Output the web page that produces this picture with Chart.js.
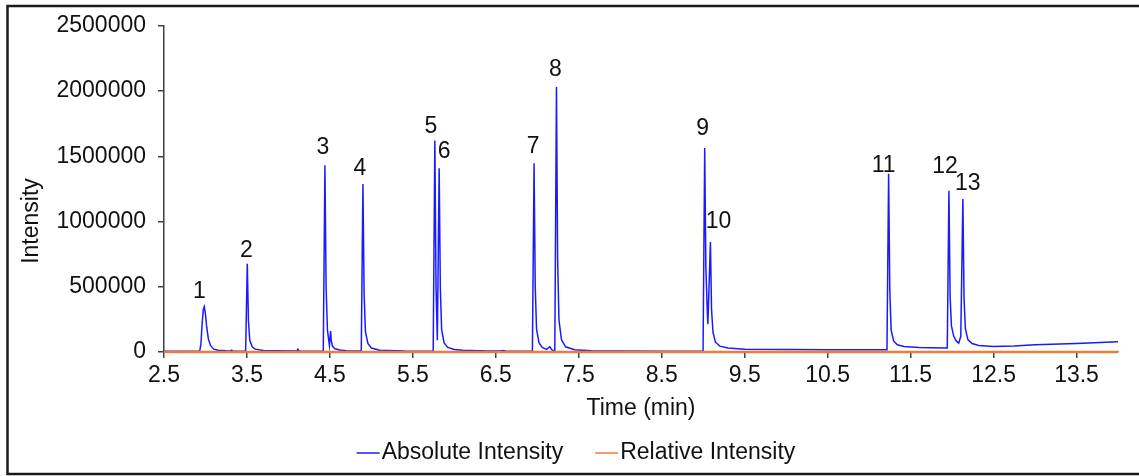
<!DOCTYPE html>
<html lang="en">
<head>
    <meta charset="UTF-8">
    <title>Chromatogram</title>
    <script src="https://cdn.jsdelivr.net/npm/chart.js"></script>
    <style>
        body { margin: 0; background: #fff; }
        #wrap { width: 1139px; height: 476px; position: relative; }
    </style>
</head>
<body>
    <div id="wrap"><canvas id="chrom"></canvas></div>

    <script>
        // retention time (min) and absolute intensity, grouped by peak
        const times = [
            2.5, 2.93, 2.945, 2.96, 2.975, 2.986, 2.998, 3.015, 3.035, 3.06, 3.1, 3.15, 3.25, 3.3, 3.316, 3.33, 3.46,
            3.484, 3.504, 3.518, 3.534, 3.564, 3.6, 3.7, 3.85, 4.1, 4.114, 4.128,
            4.42, 4.44, 4.454, 4.47, 4.494, 4.508, 4.516, 4.53, 4.56, 4.62, 4.7, 4.85,
            4.878, 4.898, 4.912, 4.928, 4.958, 5.0, 5.1, 5.4,
            5.745, 5.765, 5.779, 5.795, 5.817, 5.831, 5.847, 5.877, 5.92, 6.0, 6.1, 6.4, 6.55, 6.584, 6.62,
            6.941, 6.961, 6.975, 6.991, 7.021, 7.06, 7.11, 7.15, 7.18, 7.2,
            7.211, 7.231, 7.245, 7.261, 7.291, 7.34, 7.45, 7.65, 8.0, 8.5,
            8.998, 9.018, 9.032, 9.05, 9.056, 9.087, 9.1, 9.118, 9.147, 9.2, 9.3, 9.5, 10.0, 10.5, 11.2,
            11.215, 11.235, 11.249, 11.265, 11.295, 11.34, 11.42, 11.6, 11.92,
            11.942, 11.962, 11.976, 11.992, 12.02, 12.05, 12.08, 12.105, 12.13, 12.144, 12.16, 12.19, 12.24, 12.32, 12.5, 12.75, 13.0, 13.5, 14.0
        ];
        const absolute = [
            5000, 5000, 60000, 220000, 330000, 348000, 300000, 190000, 100000, 50000, 22000, 13000, 9000, 8000, 14000, 7000, 6000,
            6000, 677000, 240000, 90000, 40000, 22000, 12000, 9000, 7000, 22000, 7000,
            6000, 1432000, 500000, 170000, 50000, 160000, 90000, 45000, 25000, 15000, 10000, 7000,
            7000, 1288000, 450000, 155000, 65000, 30000, 13000, 7000,
            6000, 1621000, 500000, 91000, 1409000, 490000, 170000, 70000, 35000, 20000, 13000, 8000, 7000, 11000, 7000,
            6000, 1447000, 500000, 175000, 70000, 35000, 20000, 40000, 14000, 11000,
            10000, 2030000, 710000, 245000, 95000, 40000, 18000, 10000, 8000, 6000,
            5000, 1563000, 650000, 300000, 212000, 843000, 330000, 150000, 75000, 45000, 30000, 22000, 19000, 18000, 17000,
            17000, 1366000, 480000, 170000, 85000, 55000, 42000, 35000, 30000,
            30000, 1235000, 430000, 200000, 120000, 85000, 68000, 120000, 1172000, 410000, 180000, 95000, 65000, 50000, 42000, 46000, 55000, 66000, 78000
        ];

        // relative intensity (%), sparse
        const relTimes = [2.5, 2.986, 3.504, 4.44, 4.898, 5.765, 5.817, 6.961, 7.231, 9.018, 9.087, 11.235, 11.962, 12.13, 14.0];
        const relative = [0.2, 17.1, 33.4, 70.5, 63.4, 79.9, 69.4, 71.3, 100, 77.0, 41.5, 67.3, 60.8, 57.7, 3.8];

        // numbered peaks
        const peakNames = ['1', '2', '3', '4', '5', '6', '7', '8', '9', '10', '11', '12', '13'];
        const peakTimes = [2.986, 3.504, 4.44, 4.898, 5.765, 5.817, 6.961, 7.231, 9.018, 9.087, 11.235, 11.962, 12.13];
        const peakHeights = [348000, 677000, 1432000, 1288000, 1621000, 1409000, 1447000, 2030000, 1563000, 843000, 1366000, 1235000, 1172000];

        const xTicks = [2.5, 3.5, 4.5, 5.5, 6.5, 7.5, 8.5, 9.5, 10.5, 11.5, 12.5, 13.5];
        const seriesNames = ['Absolute Intensity', 'Relative Intensity'];

        const FONT = '"Liberation Sans", Arial, sans-serif';
        const FSIZE = 23;
        Chart.defaults.font.family = FONT;
        Chart.defaults.font.size = FSIZE;
        Chart.defaults.color = '#111';

        const overlay = {
            id: 'overlay',
            afterDatasetsDraw(chart, args, opts) {
                const { ctx, scales: { x, y } } = chart;
                ctx.save();
                ctx.font = FSIZE + 'px ' + FONT;
                ctx.fillStyle = '#111';
                ctx.textAlign = 'center';
                ctx.textBaseline = 'middle';
                peakNames.forEach((name, i) => {
                    const [dx, dy] = opts.labelShift[i];
                    ctx.fillText(name, x.getPixelForValue(peakTimes[i]) + dx, y.getPixelForValue(peakHeights[i]) + dy);
                });

                // y axis title
                ctx.save();
                ctx.translate(32, 221);
                ctx.rotate(-Math.PI / 2);
                ctx.fillText('Intensity', 0, 0);
                ctx.restore();

                // legend, excel style
                const ly = 453;
                ctx.textAlign = 'left';
                const items = chart.data.datasets.map(ds => ({ text: ds.label, color: ds.borderColor, w: ctx.measureText(ds.label).width }));
                const total = items.reduce((s, it) => s + 25 + it.w, 0) + 32 * (items.length - 1);
                let lx = 576 - total / 2;
                items.forEach(it => {
                    ctx.strokeStyle = it.color;
                    ctx.lineWidth = 1.5;
                    ctx.beginPath();
                    ctx.moveTo(lx, ly);
                    ctx.lineTo(lx + 23, ly);
                    ctx.stroke();
                    ctx.fillText(it.text, lx + 25, ly);
                    lx += 25 + it.w + 32;
                });

                // outer frame
                ctx.strokeStyle = '#1a1a1a';
                ctx.lineWidth = 2.5;
                ctx.strokeRect(7.5, 6, 1140, 468);
                ctx.restore();
            }
        };

        new Chart(document.getElementById('chrom'), {
            type: 'line',
            data: {
                datasets: [
                    {
                        label: seriesNames[0],
                        data: times.map((t, i) => ({ x: t, y: absolute[i] })),
                        borderColor: '#1a1aff',
                        borderWidth: 1.5,
                        pointRadius: 0,
                        tension: 0,
                        order: 1
                    },
                    {
                        label: seriesNames[1],
                        data: relTimes.map((t, i) => ({ x: t, y: relative[i] })),
                        borderColor: '#ed7d31',
                        borderWidth: 2.5,
                        pointRadius: 0,
                        tension: 0,
                        clip: false,
                        order: 0
                    }
                ]
            },
            options: {
                responsive: true,
                maintainAspectRatio: false,
                animation: false,
                devicePixelRatio: 1,
                layout: { padding: { top: 22, right: 21, bottom: 0, left: 0 } },
                plugins: {
                    legend: { display: false },
                    tooltip: { enabled: false },
                    overlay: {
                        labelShift: [[-5, -15], [-1, -13], [-2, -17], [-3, -15], [-4, -14], [5, -16], [-1, -17], [-1, -17],
                                     [-2, -19], [8, -20], [-5, -8], [-4, -24], [5, -15]]
                    }
                },
                scales: {
                    x: {
                        type: 'linear',
                        min: 2.5,
                        max: 14,
                        afterBuildTicks: s => { s.ticks = xTicks.map(v => ({ value: v })); },
                        afterFit: s => { s.height = 124; },
                        ticks: { padding: 4, maxRotation: 0, autoSkip: false, color: '#111' },
                        grid: { drawOnChartArea: false, drawTicks: true, tickLength: 6, color: '#404040', lineWidth: 1.5 },
                        border: { display: true, color: '#404040', width: 1.5 },
                        title: { display: true, text: 'Time (min)', color: '#111', padding: { top: 0, bottom: 54 } }
                    },
                    y: {
                        min: 0,
                        max: 2500000,
                        afterFit: s => { s.width = 164; },
                        ticks: { stepSize: 500000, padding: 12, color: '#111', callback: v => String(v) },
                        grid: { drawOnChartArea: false, drawTicks: true, tickLength: 6, color: '#404040', lineWidth: 1.5 },
                        border: { display: true, color: '#404040', width: 1.5 }
                    }
                }
            },
            plugins: [overlay]
        });
    </script>
</body>
</html>
